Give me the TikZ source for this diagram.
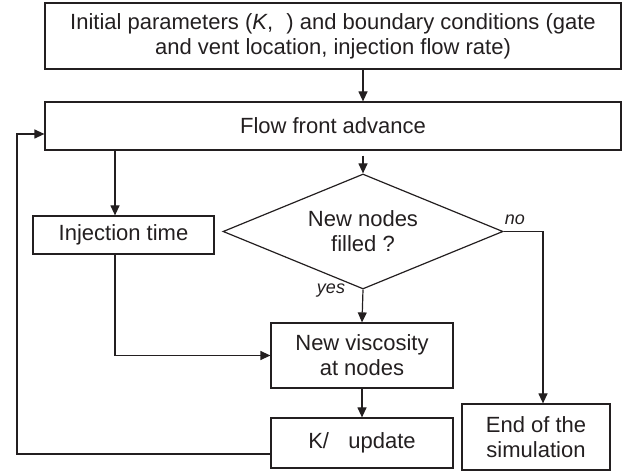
\documentclass[tikz,border=0pt]{standalone}
\usepackage{fontspec}
\setmainfont{Liberation Sans}
\usetikzlibrary{shapes.geometric,arrows.meta}
\definecolor{ink}{RGB}{35,31,32}
\begin{document}
\begin{tikzpicture}[x=1pt,y=-1pt,
  every node/.style={text=ink},
  txt/.style={font=\fontsize{22}{25}\selectfont, align=center},
  box/.style={draw=ink, line width=1.2pt, rectangle, inner sep=0pt, txt},
  dbox/.style={draw=ink, line width=1.2pt, diamond, inner sep=0pt, aspect=2.43,
    minimum width=280pt, minimum height=115pt, txt},
  lab/.style={font=\fontsize{18}{20}\selectfont\itshape, inner sep=0pt},
  arr/.style={draw=ink, line width=1.2pt, -{Triangle[length=10pt,width=9pt]}},
  ln/.style={draw=ink, line width=1.2pt}]
\useasboundingbox (0,0) rectangle (633,473);
\node[box, minimum width=576pt, minimum height=66pt] (init) at (333,36)
  {Initial parameters (\textit{K},\hspace{0.6em}) and boundary conditions (gate\\and vent location, injection flow rate)};
\node[box, minimum width=576pt, minimum height=48pt] (flow) at (333,126) {Flow front advance};
\node[box, minimum width=181pt, minimum height=38pt] (inj) at (123.5,235) {Injection time};
\node[dbox] (dia) at (363,231.5) {New nodes\\filled ?};
\node[box, minimum width=182pt, minimum height=65pt] (visc) at (362,355.5) {New viscosity\\at nodes};
\node[box, minimum width=182pt, minimum height=50pt] (upd) at (362,443) {K/\hspace{0.6em} update};
\node[box, minimum width=148pt, minimum height=66pt] (endb) at (536,437) {End of the\\simulation};
\node[lab] (no) at (515,220) {no};
\node[lab] (yes) at (331,291) {yes};
\coordinate (c1) at (115,0);
\coordinate (c3) at (543,0);
\coordinate (fbL) at (17,454);
\coordinate (fbT) at (17,134);
\draw[arr] (init.south -| dia) -- (flow.north -| dia);
\draw[arr] (flow.south -| c1) -- (inj.north -| c1);
\draw[arr, shorten <=5pt] (flow.south -| dia) -- (dia.north);
\draw[arr] (dia.south) -- (visc.north);
\draw[arr] (inj.south -| c1) |- (visc.west);
\draw[arr] (visc.south) -- (upd.north);
\draw[arr] (dia.east) -| (endb.north -| c3);
\draw[arr] (upd.west |- fbL) -- (fbL) -- (fbT) -- (flow.west |- fbT);
\end{tikzpicture}
\end{document}
